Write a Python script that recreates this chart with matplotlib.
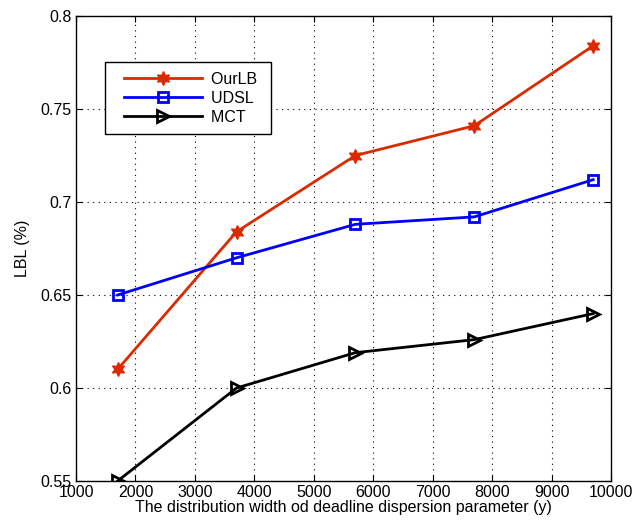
import matplotlib
matplotlib.use("Agg")
import matplotlib.pyplot as plt
from matplotlib.legend_handler import HandlerLine2D

x_vals = [1700, 3700, 5700, 7700, 9700]
ourlb = [0.610, 0.684, 0.725, 0.741, 0.784]
udsl = [0.650, 0.670, 0.688, 0.692, 0.712]
mct = [0.550, 0.600, 0.619, 0.626, 0.640]


class InsetLine(HandlerLine2D):
    """Legend line that starts a bit in from the left edge (MATLAB look)."""

    def get_xdata(self, legend, xdescent, ydescent, width, height, fontsize):
        off = 7
        return ([-xdescent + off, -xdescent + width],
                [-xdescent + off + (width - off) / 2])


plt.rcParams["font.family"] = ["Liberation Sans", "DejaVu Sans"]
plt.rcParams["font.size"] = 11.5

fig = plt.figure(figsize=(6.44, 5.23), dpi=100)
ax = fig.add_axes([76 / 644, 1 - 481 / 523, 535 / 644, 465 / 523])

ax.plot(x_vals, ourlb, color="#dc2a00", lw=2, marker=(6, 1, 0), ms=10,
        label="OurLB ")
ax.plot(x_vals, udsl, color="#0000ff", lw=2, marker="s", ms=6.5,
        mfc="none", mew=2, label="UDSL ")
ax.plot(x_vals, mct, color="black", lw=2, marker=">", ms=8.5,
        mfc="none", mew=2, label="MCT ")

ax.set_xlim(1000, 10000)
ax.set_ylim(0.55, 0.8)
ax.set_xticks(range(1000, 10001, 1000))
ax.set_yticks([0.55, 0.6, 0.65, 0.7, 0.75, 0.8])
ax.set_yticklabels(["0.55", "0.6", "0.65", "0.7", "0.75", "0.8"])
ax.grid(True, linestyle=(0, (1, 4)), color="black", lw=0.8)
ax.tick_params(direction="in", top=True, right=True, length=4, pad=3)
for s in ax.spines.values():
    s.set_linewidth(1)

ax.set_xlabel("The distribution width od deadline dispersion parameter (y)",
              labelpad=0)
ax.set_ylabel("LBL (%)", labelpad=8)

leg = ax.legend(loc="upper left", bbox_to_anchor=(0.054, 0.901),
                borderaxespad=0, fancybox=False, edgecolor="black",
                framealpha=1, handlelength=5.5, handletextpad=0.55,
                labelspacing=0.25, borderpad=0.6,
                handler_map={plt.Line2D: InsetLine()})
leg.get_frame().set_linewidth(1)

fig.savefig("out.png", dpi=100)
